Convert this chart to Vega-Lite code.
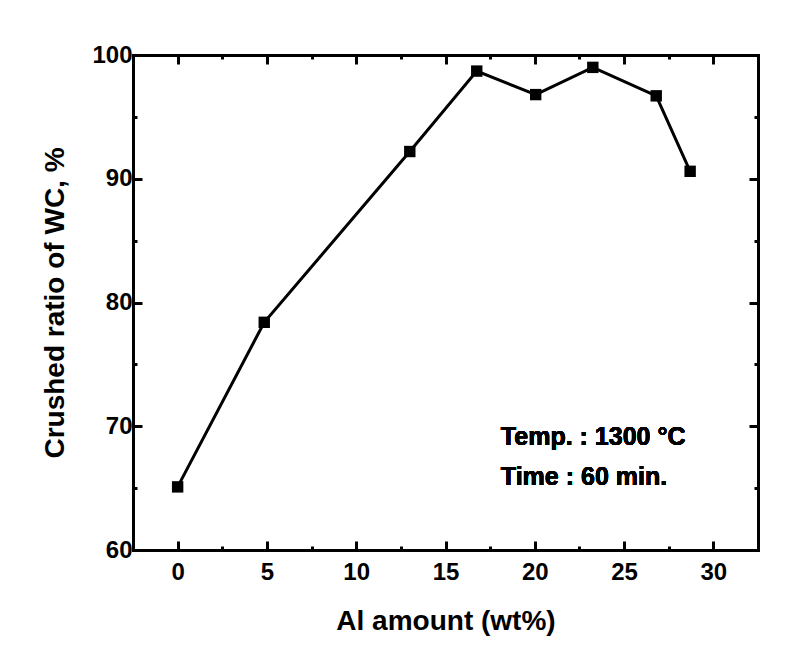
{
  "$schema": "https://vega.github.io/schema/vega-lite/v6.json",
  "width": 625,
  "height": 495,
  "autosize": "none",
  "padding": {"left": 133, "top": 55, "right": 35, "bottom": 110},
  "background": "white",
  "config": {
    "view": {"stroke": null},
    "font": "Liberation Sans",
    "axis": {
      "domainColor": "black",
      "domainWidth": 3,
      "domainCap": "square",
      "tickColor": "black",
      "tickWidth": 3,
      "grid": false,
      "labelFont": "Liberation Sans",
      "labelFontSize": 24,
      "labelFontWeight": "bold",
      "labelColor": "black",
      "titleFont": "Liberation Sans",
      "titleFontSize": 28,
      "titleFontWeight": "bold",
      "titleColor": "black"
    }
  },
  "data": {
    "values": [
      {"al": 0, "ratio": 65.1},
      {"al": 4.85, "ratio": 78.4},
      {"al": 13.0, "ratio": 92.2},
      {"al": 16.75, "ratio": 98.7},
      {"al": 20.05, "ratio": 96.8},
      {"al": 23.25, "ratio": 99.0},
      {"al": 26.8, "ratio": 96.7},
      {"al": 28.7, "ratio": 90.6}
    ]
  },
  "resolve": {"axis": {"x": "independent", "y": "independent"}},
  "layer": [
    {
      "mark": {"type": "line", "color": "black", "strokeWidth": 3},
      "encoding": {
        "x": {
          "field": "al", "type": "quantitative",
          "scale": {"domain": [-2.5, 32.5], "nice": false, "zero": false},
          "axis": {
            "orient": "bottom",
            "values": [0, 2.5, 5, 7.5, 10, 12.5, 15, 17.5, 20, 22.5, 25, 27.5, 30],
            "labelExpr": "datum.value % 5 === 0 ? datum.label : ''",
            "tickSize": {"condition": {"test": "datum.value % 5 === 0", "value": -9}, "value": -4},
            "labelPadding": 19,
            "title": "Al amount (wt%)",
            "titlePadding": 23
          }
        },
        "y": {
          "field": "ratio", "type": "quantitative",
          "scale": {"domain": [60, 100], "nice": false, "zero": false},
          "axis": {
            "orient": "left",
            "values": [60, 65, 70, 75, 80, 85, 90, 95, 100],
            "labelExpr": "datum.value % 10 === 0 ? datum.label : ''",
            "tickSize": {"condition": {"test": "datum.value % 10 === 0", "value": -9}, "value": -4},
            "labelPadding": 10,
            "title": "Crushed ratio of WC, %",
            "titlePadding": 22
          }
        }
      }
    },
    {
      "mark": {"type": "point", "shape": "square", "filled": true, "color": "black", "size": 130, "opacity": 1},
      "encoding": {
        "x": {
          "field": "al", "type": "quantitative",
          "scale": {"domain": [-2.5, 32.5], "nice": false, "zero": false},
          "axis": {
            "orient": "top",
            "values": [0, 2.5, 5, 7.5, 10, 12.5, 15, 17.5, 20, 22.5, 25, 27.5, 30],
            "labels": false,
            "tickSize": {"condition": {"test": "datum.value % 5 === 0", "value": -9}, "value": -4},
            "title": null
          }
        },
        "y": {
          "field": "ratio", "type": "quantitative",
          "scale": {"domain": [60, 100], "nice": false, "zero": false},
          "axis": {
            "orient": "right",
            "values": [60, 65, 70, 75, 80, 85, 90, 95, 100],
            "labels": false,
            "tickSize": {"condition": {"test": "datum.value % 10 === 0", "value": -9}, "value": -4},
            "title": null
          }
        }
      }
    },
    {
      "mark": {"type": "text", "align": "left", "baseline": "middle", "fontSize": 25, "fontWeight": "bold", "color": "black", "font": "Liberation Sans", "text": "Temp. : 1300 °C"},
      "encoding": {
        "x": {"datum": 18.1, "type": "quantitative", "axis": null},
        "y": {"datum": 69.1, "type": "quantitative", "axis": null}
      }
    },
    {
      "mark": {"type": "text", "align": "left", "baseline": "middle", "fontSize": 25, "fontWeight": "bold", "color": "black", "font": "Liberation Sans", "text": "Time : 60 min."},
      "encoding": {
        "x": {"datum": 18.1, "type": "quantitative", "axis": null},
        "y": {"datum": 65.9, "type": "quantitative", "axis": null}
      }
    }
  ]
}
